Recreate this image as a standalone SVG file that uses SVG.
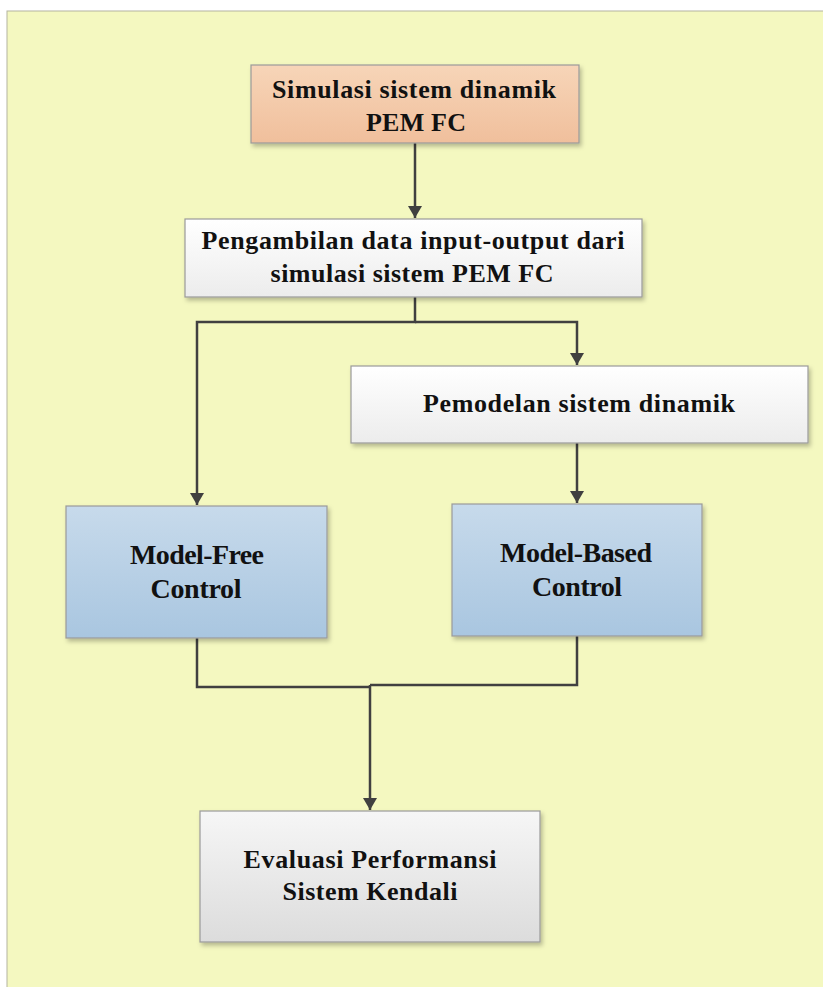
<svg xmlns="http://www.w3.org/2000/svg" width="823" height="987" viewBox="0 0 823 987">
<style>
.t{font-family:"Liberation Serif","Times New Roman",serif;font-weight:bold;font-size:26px;fill:#111;text-anchor:middle}
.m{font-size:28px}
.c{fill:none;stroke:#404040;stroke-width:2.5}
.box{stroke:#9a9a9a;stroke-width:1.2}
</style>
<defs>
<linearGradient id="gPeach" x1="0" y1="0" x2="0" y2="1"><stop offset="0" stop-color="#f7d5b8"/><stop offset="1" stop-color="#f0bf9c"/></linearGradient>
<linearGradient id="gWhite" x1="0" y1="0" x2="0" y2="1"><stop offset="0" stop-color="#ffffff"/><stop offset="1" stop-color="#ececec"/></linearGradient>
<linearGradient id="gBlue" x1="0" y1="0" x2="0" y2="1"><stop offset="0" stop-color="#c7daeb"/><stop offset="1" stop-color="#a9c6e0"/></linearGradient>
<linearGradient id="gGray" x1="0" y1="0" x2="0" y2="1"><stop offset="0" stop-color="#f6f6f6"/><stop offset="1" stop-color="#dcdcdc"/></linearGradient>
<filter id="sh" x="-5%" y="-5%" width="115%" height="120%"><feDropShadow dx="2" dy="3" stdDeviation="2" flood-color="#000" flood-opacity="0.25"/></filter>
<marker id="ar" viewBox="0 0 12 14" refX="12" refY="7" markerWidth="12" markerHeight="14" markerUnits="userSpaceOnUse" orient="auto"><path d="M0,0 L12,7 L0,14 Z" fill="#404040"/></marker>
</defs>
<rect x="0" y="0" width="823" height="987" fill="#ffffff"/>
<rect x="7" y="11" width="830" height="990" fill="#f4f8c0" stroke="#b4b4a0" stroke-width="1"/>
<g id="connectors">
<path class="c" d="M415,143 V218" marker-end="url(#ar)"/>
<path class="c" d="M415,297 V322 H197 V505" marker-end="url(#ar)"/>
<path class="c" d="M415,322 H577 V365" marker-end="url(#ar)"/>
<path class="c" d="M577,443 V503" marker-end="url(#ar)"/>
<path class="c" d="M197,638 V687 H370"/>
<path class="c" d="M577,636 V685 H370"/>
<path class="c" d="M370,685 V810" marker-end="url(#ar)"/>
</g>
<g id="n1">
<rect class="box" x="251" y="65" width="328" height="78" fill="url(#gPeach)" filter="url(#sh)"/>
<text class="t" x="414" y="98" textLength="284" lengthAdjust="spacing">Simulasi sistem dinamik</text>
<text class="t" x="416" y="131" textLength="100" lengthAdjust="spacing">PEM FC</text>
</g>
<g id="n2">
<rect class="box" x="185" y="219" width="457" height="78" fill="url(#gWhite)" filter="url(#sh)"/>
<text class="t" x="413" y="249" textLength="423" lengthAdjust="spacing">Pengambilan data input-output dari</text>
<text class="t" x="412" y="282" textLength="283" lengthAdjust="spacing">simulasi sistem PEM FC</text>
</g>
<g id="n3">
<rect class="box" x="351" y="366" width="457" height="77" fill="url(#gWhite)" filter="url(#sh)"/>
<text class="t" x="579" y="412" textLength="312" lengthAdjust="spacing">Pemodelan sistem dinamik</text>
</g>
<g id="n4">
<rect class="box" x="66" y="506" width="261" height="132" fill="url(#gBlue)" filter="url(#sh)"/>
<text class="t m" x="197" y="564" textLength="134" lengthAdjust="spacing">Model-Free</text>
<text class="t m" x="196" y="598" textLength="91" lengthAdjust="spacing">Control</text>
</g>
<g id="n5">
<rect class="box" x="452" y="504" width="250" height="132" fill="url(#gBlue)" filter="url(#sh)"/>
<text class="t m" x="576" y="562" textLength="152" lengthAdjust="spacing">Model-Based</text>
<text class="t m" x="577" y="596" textLength="90" lengthAdjust="spacing">Control</text>
</g>
<g id="n6">
<rect class="box" x="200" y="811" width="340" height="131" fill="url(#gGray)" filter="url(#sh)"/>
<text class="t" x="370" y="868" textLength="253" lengthAdjust="spacing">Evaluasi Performansi</text>
<text class="t" x="370" y="900" textLength="175" lengthAdjust="spacing">Sistem Kendali</text>
</g>
</svg>
